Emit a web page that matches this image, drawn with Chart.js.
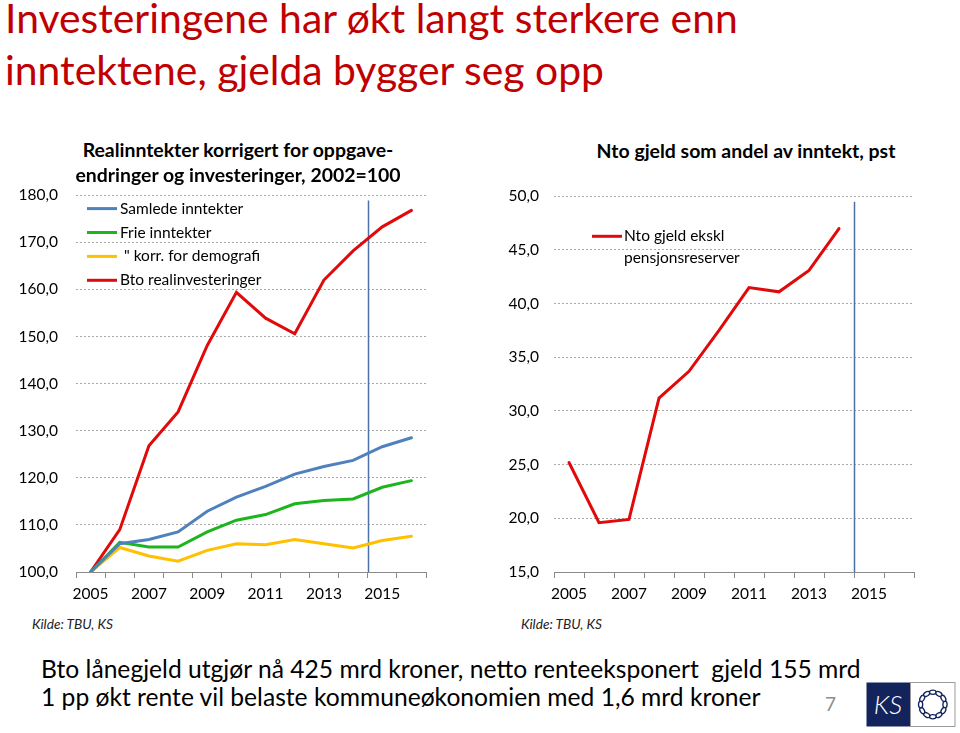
<!DOCTYPE html>
<html>
<head>
<meta charset="utf-8">
<script src="https://cdn.jsdelivr.net/npm/chart.js@4/dist/chart.umd.min.js"></script>
<style>
  html, body { margin: 0; padding: 0; background: #fff; }
  body { width: 960px; height: 733px; position: relative; overflow: hidden; font-family: Lato, "Open Sans", sans-serif; }
  .t { position: absolute; white-space: nowrap; line-height: 1.2; }
  canvas { position: absolute; }
</style>
</head>
<body>
<canvas id="left" width="440" height="444" style="left:0px; top:168px;"></canvas>
<canvas id="right" width="440" height="440" style="left:490px; top:172px;"></canvas>
<svg id="logo" width="92" height="48" style="position:absolute; left:865px; top:681px;"></svg>
<script>
// ---------- data ----------
const years = ['2005','2006','2007','2008','2009','2010','2011','2012','2013','2014','2015','2016'];
const samledeInntekter   = [100, 106.0, 106.9, 108.5, 112.9, 115.9, 118.2, 120.8, 122.4, 123.7, 126.6, 128.5];
const frieInntekter      = [100, 106.3, 105.3, 105.3, 108.5, 111.0, 112.2, 114.5, 115.2, 115.5, 118.0, 119.4];
const korrDemografi      = [100, 105.2, 103.4, 102.3, 104.6, 106.0, 105.8, 106.9, 106.0, 105.1, 106.7, 107.6];
const btoRealinvest      = [100, 109.0, 126.8, 134.0, 148.1, 159.4, 153.9, 150.6, 162.0, 168.2, 173.3, 176.8];
const ntoGjeld           = [25.2, 19.6, 19.9, 31.2, 33.7, 37.5, 41.5, 41.1, 43.1, 47.0, null, null];
const leftLabels  = ['Samlede inntekter', 'Frie inntekter', ' " korr. for demografi', 'Bto realinvesteringer'];
const rightLabel  = 'Nto gjeld ekskl\npensjonsreserver';
const lastActualIndex = 9; // marker drawn between 2014 and 2015

// ---------- texts ----------
const texts = [
  { s: 'Investeringene har økt langt sterkere enn', x: 5, base: 33.5, w: 733, f: 36, color: '#C00000' },
  { s: 'inntektene, gjelda bygger seg opp', x: 5, base: 85.5, fRef: 0, color: '#C00000' },
  { s: 'Realinntekter korrigert for oppgave-', cx: 238, base: 157.5, w: 311, f: 16, weight: 700, color: '#000' },
  { s: 'endringer og investeringer, 2002=100', cx: 238, base: 182.5, fRef: 2, weight: 700, color: '#000' },
  { s: 'Nto gjeld som andel av inntekt, pst', cx: 746, base: 158, w: 299, f: 16, weight: 700, color: '#000' },
  { s: 'Kilde: TBU, KS', x: 32, base: 629, w: 81, f: 13, style: 'italic', color: '#222' },
  { s: 'Kilde: TBU, KS', x: 521, base: 629, w: 81, f: 13, style: 'italic', color: '#222' },
  { s: 'Bto lånegjeld utgjør nå 425 mrd kroner, netto renteeksponert\u00a0 gjeld 155 mrd', x: 41, base: 678.5, w: 820, f: 21, color: '#000' },
  { s: '1 pp økt rente vil belaste kommuneøkonomien med 1,6 mrd kroner', x: 41, base: 706.5, fRef: 7, color: '#000' },
  { s: '7', x: 825, base: 712, f: 19, color: '#8C8C8C' }
];
const made = [];
texts.forEach((t, i) => {
  const d = document.createElement('div');
  d.className = 't';
  d.textContent = t.s;
  d.style.color = t.color;
  if (t.weight) d.style.fontWeight = t.weight;
  if (t.style) d.style.fontStyle = t.style;
  let f = t.fRef !== undefined ? made[t.fRef] : t.f;
  d.style.fontSize = f + 'px';
  document.body.appendChild(d);
  if (t.w) {
    const w = d.getBoundingClientRect().width;
    f = f * t.w / w;
    d.style.fontSize = f + 'px';
  }
  made[i] = f;
  d.style.top = (t.base - 0.987 * f) + 'px';
  if (t.cx !== undefined) {
    const w = d.getBoundingClientRect().width;
    d.style.left = (t.cx - w / 2) + 'px';
  } else {
    d.style.left = t.x + 'px';
  }
});

// ---------- logo ----------
(function(){
  const svg = document.getElementById('logo');
  let html = '<rect x="1.5" y="1.5" width="44" height="44" fill="#13235B"/>' +
             '<rect x="45.5" y="1.5" width="44.5" height="44" fill="#fff" stroke="#9A9A9A" stroke-width="1"/>' +
             '<text x="23" y="33" text-anchor="middle" fill="#fff" font-family="Lato, sans-serif" font-style="italic" font-size="26" font-weight="300">KS</text>';
  const cx = 67.8, cy = 23.5, r = 12.2;
  for (let k = 0; k < 12; k++) {
    const a = k * Math.PI * 2 / 12;
    const x = cx + r * Math.cos(a), y = cy + r * Math.sin(a);
    html += '<ellipse cx="' + x.toFixed(2) + '" cy="' + y.toFixed(2) + '" rx="3.3" ry="2.1" transform="rotate(' + (k * 30 + 90) + ' ' + x.toFixed(2) + ' ' + y.toFixed(2) + ')" fill="#fff" stroke="#13235B" stroke-width="1.3"/>';
  }
  svg.innerHTML = html;
})();

// ---------- chart helpers ----------
Chart.defaults.font.family = 'Lato, "Open Sans", sans-serif';
Chart.defaults.color = '#000';

const markerPlugin = {
  id: 'marker',
  beforeDatasetsDraw(chart, args, opts) {
    const xs = chart.scales.x, ys = chart.scales.y, ctx = chart.ctx;
    const x = Math.round((xs.getPixelForValue(opts.afterIndex) + xs.getPixelForValue(opts.afterIndex + 1)) / 2) + 0.5;
    ctx.save();
    ctx.strokeStyle = opts.color;
    ctx.lineWidth = 1.5;
    ctx.beginPath();
    ctx.moveTo(x, ys.getPixelForValue(opts.topValue));
    ctx.lineTo(x, chart.chartArea.bottom);
    ctx.stroke();
    ctx.restore();
  }
};

const lineLegendPlugin = {
  id: 'lineLegend',
  afterDatasetsDraw(chart, args, o) {
    const ctx = chart.ctx, ca = chart.chartArea;
    ctx.save();
    ctx.font = o.fontSize + 'px Lato, "Open Sans", sans-serif';
    ctx.fillStyle = '#000';
    ctx.textBaseline = 'alphabetic';
    chart.data.datasets.forEach((ds, i) => {
      const y = ca.top + o.dy + i * o.spacing;
      const x0 = ca.left + o.dx;
      ctx.strokeStyle = ds.borderColor;
      ctx.lineWidth = 3;
      ctx.beginPath();
      ctx.moveTo(x0, y);
      ctx.lineTo(x0 + o.lineLen, y);
      ctx.stroke();
      ds.label.split('\n').forEach((line, j) => {
        ctx.fillText(line, x0 + o.lineLen + o.gap, y + o.baseOff + j * o.lineGap);
      });
    });
    ctx.restore();
  }
};

const fmt = v => v.toFixed(1).replace('.', ',');

function makeOptions(cfg) {
  return {
    responsive: false,
    animation: false,
    devicePixelRatio: 1,
    layout: { padding: { left: 0, top: 0, right: cfg.padRight, bottom: 0 } },
    elements: { point: { radius: 0 }, line: { borderWidth: 3, tension: 0, borderCapStyle: 'round', borderJoinStyle: 'miter' } },
    plugins: {
      legend: { display: false },
      tooltip: { enabled: false },
      marker: { afterIndex: lastActualIndex, topValue: cfg.markerTop, color: '#4A72A8' },
      lineLegend: cfg.legend
    },
    scales: {
      x: {
        offset: true,
        grid: { offset: true, drawOnChartArea: false, drawTicks: true, tickLength: 6, color: '#8A8A8A' },
        border: { color: '#8A8A8A', width: 1 },
        ticks: {
          autoSkip: false, maxRotation: 0, minRotation: 0, padding: 7,
          font: { size: 15.5 }, color: '#000',
          callback: (v, i) => (i % 2 === 0 ? years[i] : '')
        },
        afterFit: s => { s.height = 40; }
      },
      y: {
        min: cfg.min, max: cfg.max,
        ticks: { stepSize: cfg.step, padding: cfg.labelPad, font: { size: 15.5 }, color: '#000', callback: v => fmt(v) },
        grid: { color: '#A8A8A8', lineWidth: 1, drawTicks: false },
        border: { display: false, dash: [2, 2] },
        afterFit: s => { s.width = cfg.axisWidth; }
      }
    }
  };
}

new Chart(document.getElementById('left'), {
  type: 'line',
  data: {
    labels: years,
    datasets: [
      { label: leftLabels[0], data: samledeInntekter, borderColor: '#4F81BD' },
      { label: leftLabels[1], data: frieInntekter, borderColor: '#1DB41D' },
      { label: leftLabels[2], data: korrDemografi, borderColor: '#FFC000' },
      { label: leftLabels[3], data: btoRealinvest, borderColor: '#E00A0A' }
    ]
  },
  options: makeOptions({
    padRight: 14, min: 100, max: 180, step: 10, labelPad: 18, axisWidth: 76, markerTop: 178.9,
    legend: { dx: 11, dy: 13.3, spacing: 23.9, lineLen: 30, gap: 3, baseOff: 5, lineGap: 0, fontSize: 15.5 }
  }),
  plugins: [markerPlugin, lineLegendPlugin]
});

new Chart(document.getElementById('right'), {
  type: 'line',
  data: {
    labels: years,
    datasets: [
      { label: rightLabel, data: ntoGjeld, borderColor: '#E00A0A' }
    ]
  },
  options: makeOptions({
    padRight: 16, min: 15, max: 50, step: 5, labelPad: 15, axisWidth: 64, markerTop: 49.5,
    legend: { dx: 38, dy: 40, spacing: 0, lineLen: 30, gap: 2, baseOff: 5, lineGap: 21.7, fontSize: 15.5 }
  }),
  plugins: [markerPlugin, lineLegendPlugin]
});
</script>
</body>
</html>
